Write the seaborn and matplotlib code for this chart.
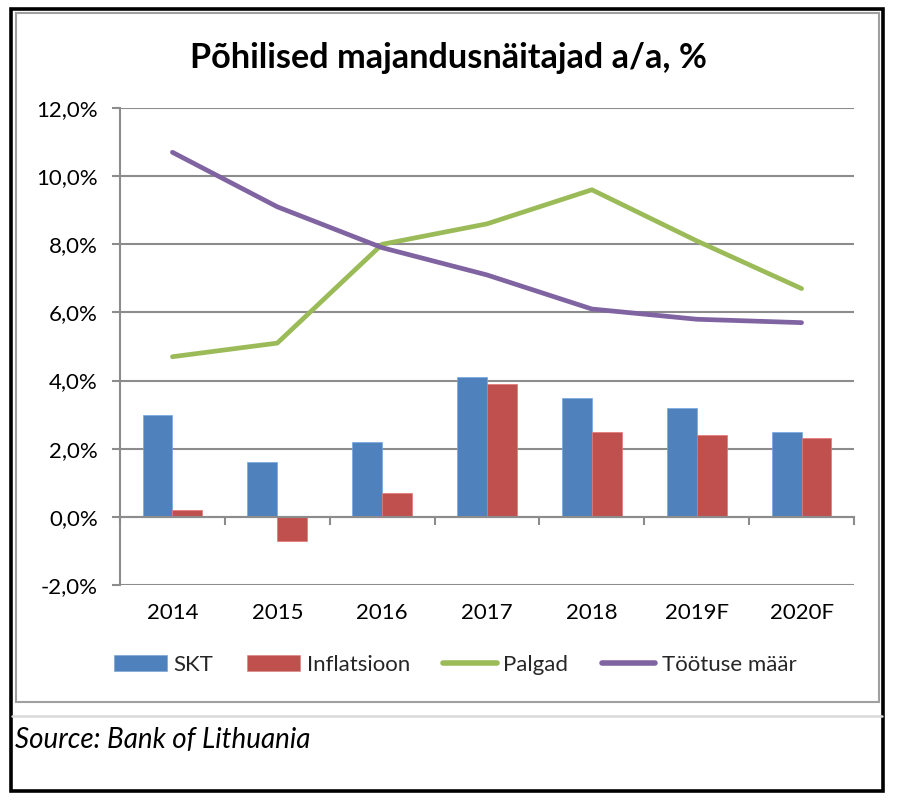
import numpy as np
import pandas as pd
import matplotlib
matplotlib.use("Agg")
import matplotlib.pyplot as plt
import seaborn as sns
from matplotlib.patches import Patch, Rectangle
from matplotlib.lines import Line2D
from matplotlib.ticker import FuncFormatter, FixedLocator

# ---- data ----
years = ['2014', '2015', '2016', '2017', '2018', '2019F', '2020F']
skt = [3.0, 1.6, 2.2, 4.1, 3.5, 3.2, 2.5]
inflatsioon = [0.2, -0.7, 0.7, 3.9, 2.5, 2.4, 2.3]
palgad = [4.7, 5.1, 8.0, 8.6, 9.6, 8.1, 6.7]
tootus = [10.7, 9.1, 7.9, 7.1, 6.1, 5.8, 5.7]
series_names = ['SKT', 'Inflatsioon', 'Palgad', 'Töötuse määr']
title = 'Põhilised majandusnäitajad a/a, %'
source = 'Source: Bank of Lithuania'
yticks = [-2, 0, 2, 4, 6, 8, 10, 12]

BLUE, RED, GREEN, PURPLE = '#4F81BD', '#C0504D', '#9BBB59', '#8064A2'
GRID = '#8c8c8c'

sns.set_theme(style='white')
plt.rcParams['font.family'] = ['Lato', 'DejaVu Sans']

W, H = 900, 806
fig = plt.figure(figsize=(W / 100, H / 100), dpi=100)
fig.patch.set_facecolor('white')

def fx(x):
    return x / W

def fy(y):
    return 1 - y / H

ax = fig.add_axes([fx(120), fy(585), (854 - 120) / W, (585 - 108) / H])

bars = pd.DataFrame({
    'year': years * 2,
    'series': [series_names[0]] * len(years) + [series_names[1]] * len(years),
    'value': skt + inflatsioon,
})
lines = pd.DataFrame({
    'year': years * 2,
    'series': [series_names[2]] * len(years) + [series_names[3]] * len(years),
    'value': palgad + tootus,
})

sns.barplot(data=bars, x='year', y='value', hue='series', palette=[BLUE, RED],
            width=0.57, saturation=1, ax=ax, legend=False, zorder=2)
for p in ax.patches:
    fc = p.get_facecolor()
    p.set_edgecolor(tuple(min(1, c + 0.15) for c in fc[:3]))
    p.set_linewidth(0.5)

sns.lineplot(data=lines, x='year', y='value', hue='series', palette=[GREEN, PURPLE],
             sort=False, linewidth=3.4, ax=ax, legend=False, zorder=4)
for l in ax.lines:
    l.set_solid_capstyle('round')
    l.set_solid_joinstyle('round')

ax.set_xlim(-0.5, len(years) - 0.5)
ax.set_ylim(-2, 12)
ax.set_yticks(yticks)
ax.yaxis.set_major_formatter(FuncFormatter(lambda v, _: f"{v:.1f}%".replace('.', ',')))
ax.set_xlabel('')
ax.set_ylabel('')

ax.yaxis.grid(True, color=GRID, linewidth=1.5)
ax.set_axisbelow(True)
for s in ['top', 'right']:
    ax.spines[s].set_visible(False)
ax.spines['left'].set_color(GRID)
ax.spines['left'].set_linewidth(1.5)
ax.spines['bottom'].set_color(GRID)
ax.spines['bottom'].set_linewidth(1.5)
ax.spines['bottom'].set_position(('data', 0))
ax.spines['bottom'].set_zorder(3)

ax.tick_params(axis='y', which='major', length=6, width=1.5, color=GRID, pad=10,
               labelsize=16, labelcolor='black', left=True)
ax.xaxis.set_minor_locator(FixedLocator(np.arange(-0.5, len(years), 1)))
ax.tick_params(axis='x', which='major', length=0, pad=62, labelsize=16, labelcolor='black')
ax.tick_params(axis='x', which='minor', length=6, width=1.5, color=GRID, bottom=True,
               direction='out')

# title and source
fig.canvas.draw()
r = fig.canvas.get_renderer()

def fit(t, target_px):
    w = t.get_window_extent(renderer=r).width
    t.set_fontsize(t.get_fontsize() * target_px / w)

t1 = fig.text(fx(449), fy(58), title, ha='center', va='center', fontsize=24,
              fontweight='bold', color='black')
fit(t1, 517)
t2 = fig.text(fx(15), fy(740), source, ha='left', va='center', fontsize=16,
              fontstyle='italic', color='black')
fit(t2, 295)

# legend
handles = [
    Patch(facecolor=BLUE, edgecolor='#7EA6D6', linewidth=0.5),
    Patch(facecolor=RED, edgecolor='#D98A88', linewidth=0.5),
    Line2D([0], [0], color=GREEN, lw=4.0, solid_capstyle='round'),
    Line2D([0], [0], color=PURPLE, lw=4.0, solid_capstyle='round'),
]
fig.legend(handles, series_names, ncol=4, loc='center',
           bbox_to_anchor=(fx(455), fy(665)), frameon=False, fontsize=16,
           handlelength=2.4, handleheight=0.75, handletextpad=0.3, columnspacing=1.5)

# frames
fig.add_artist(Rectangle((fx(16), fy(702)), (879 - 16) / W, (702 - 13) / H,
                         transform=fig.transFigure, fill=False, edgecolor='#a0a0a0', lw=1.5))
fig.add_artist(Line2D([fx(12), fx(882)], [fy(716), fy(716)], transform=fig.transFigure,
                      color='#d9d9d9', lw=1.8))
fig.add_artist(Rectangle((fx(11), fy(791)), (883 - 11) / W, (791 - 9) / H,
                         transform=fig.transFigure, fill=False, edgecolor='black', lw=2.6))

fig.savefig('out.png', dpi=100, facecolor='white')
